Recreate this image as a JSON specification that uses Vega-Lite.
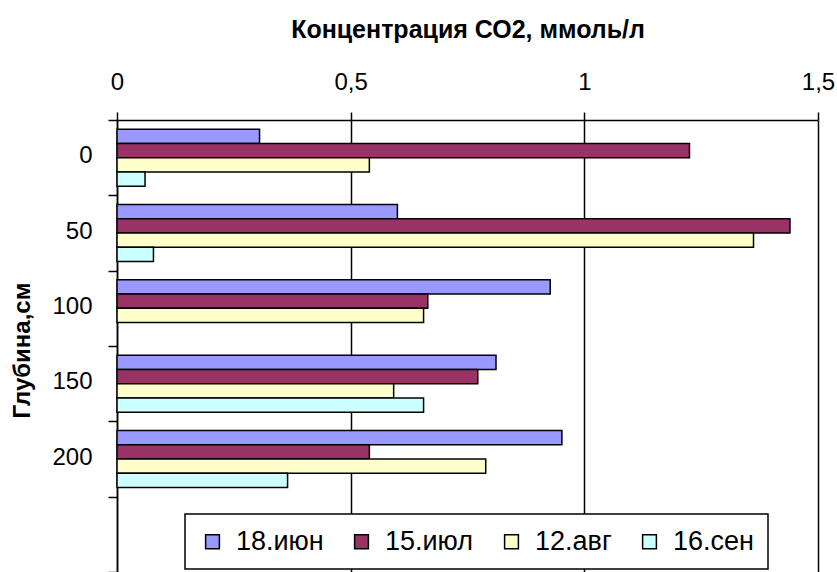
{
  "$schema": "https://vega.github.io/schema/vega-lite/v6.json",
  "autosize": {"type": "none"},
  "padding": {"left": 117, "top": 120, "right": 19, "bottom": 0},
  "width": 701,
  "height": 452,
  "background": "white",
  "config": {
    "font": "Liberation Sans",
    "view": {"stroke": null},
    "legend": {"strokeWidth": 1.5}
  },
  "data": {
    "values": [
      {"depth": "0", "date": "18.июн", "co2": 0.305},
      {"depth": "0", "date": "15.июл", "co2": 1.225},
      {"depth": "0", "date": "12.авг", "co2": 0.54},
      {"depth": "0", "date": "16.сен", "co2": 0.06},
      {"depth": "50", "date": "18.июн", "co2": 0.60},
      {"depth": "50", "date": "15.июл", "co2": 1.44},
      {"depth": "50", "date": "12.авг", "co2": 1.362},
      {"depth": "50", "date": "16.сен", "co2": 0.078},
      {"depth": "100", "date": "18.июн", "co2": 0.927},
      {"depth": "100", "date": "15.июл", "co2": 0.665},
      {"depth": "100", "date": "12.авг", "co2": 0.656},
      {"depth": "150", "date": "18.июн", "co2": 0.811},
      {"depth": "150", "date": "15.июл", "co2": 0.772},
      {"depth": "150", "date": "12.авг", "co2": 0.592},
      {"depth": "150", "date": "16.сен", "co2": 0.656},
      {"depth": "200", "date": "18.июн", "co2": 0.952},
      {"depth": "200", "date": "15.июл", "co2": 0.54},
      {"depth": "200", "date": "12.авг", "co2": 0.789},
      {"depth": "200", "date": "16.сен", "co2": 0.365}
    ]
  },
  "mark": {"type": "bar", "stroke": "black", "strokeWidth": 1.5, "cornerRadius": 0},
  "encoding": {
    "x": {
      "field": "co2",
      "type": "quantitative",
      "scale": {"domain": [0, 1.5], "nice": false, "zero": true},
      "axis": {
        "orient": "top",
        "title": "Концентрация СО2, ммоль/л",
        "titleFontSize": 25,
        "titleFontWeight": "bold",
        "titleColor": "black",
        "titleBaseline": "alphabetic",
        "titleY": -83,
        "values": [0, 0.5, 1, 1.5],
        "labelExpr": "replace(format(datum.value, '~g'), '.', ',')",
        "labelFontSize": 24,
        "labelColor": "black",
        "labelBaseline": "alphabetic",
        "labelPadding": 23,
        "labelFlush": false,
        "labelOverlap": false,
        "tickSize": 8,
        "tickColor": "black",
        "tickWidth": 1.5,
        "domainColor": "black",
        "domainWidth": 1.5,
        "grid": true,
        "gridColor": "black",
        "gridWidth": 1.5,
        "gridOpacity": 1
      }
    },
    "y": {
      "field": "depth",
      "type": "nominal",
      "scale": {"domain": ["0", "50", "100", "150", "200", ""], "paddingInner": 0, "paddingOuter": 0},
      "axis": {
        "title": "Глубина,см",
        "titleFontSize": 24,
        "titleFontWeight": "bold",
        "titleColor": "black",
        "titleAngle": -90,
        "titleBaseline": "middle",
        "titleAlign": "center",
        "titleX": -95,
        "titleY": 230,
        "labelFontSize": 24,
        "labelColor": "black",
        "labelAlign": "right",
        "labelBaseline": "middle",
        "labelPadding": 16,
        "labelOffset": -2,
        "tickBand": "extent",
        "tickSize": 9,
        "tickColor": "black",
        "tickWidth": 1.5,
        "domainColor": "black",
        "domainWidth": 1.5,
        "grid": false
      }
    },
    "yOffset": {
      "field": "date",
      "type": "nominal",
      "scale": {"domain": ["18.июн", "15.июл", "12.авг", "16.сен"], "paddingInner": 0, "paddingOuter": 0.64}
    },
    "color": {
      "field": "date",
      "type": "nominal",
      "scale": {"domain": ["18.июн", "15.июл", "12.авг", "16.сен"], "range": ["#9999FF", "#993366", "#FFFFCC", "#CCFFFF"]},
      "legend": {
        "title": null,
        "orient": "none",
        "legendX": 68,
        "legendY": 394,
        "direction": "horizontal",
        "fillColor": "white",
        "strokeColor": "black",
        "padding": 14,
        "labelFontSize": 27,
        "labelColor": "black",
        "labelOffset": 10,
        "columnPadding": 24,
        "symbolType": "square",
        "symbolSize": 190,
        "symbolStrokeColor": "black",
        "symbolStrokeWidth": 1.5,
        "symbolOpacity": 1
      }
    }
  }
}
